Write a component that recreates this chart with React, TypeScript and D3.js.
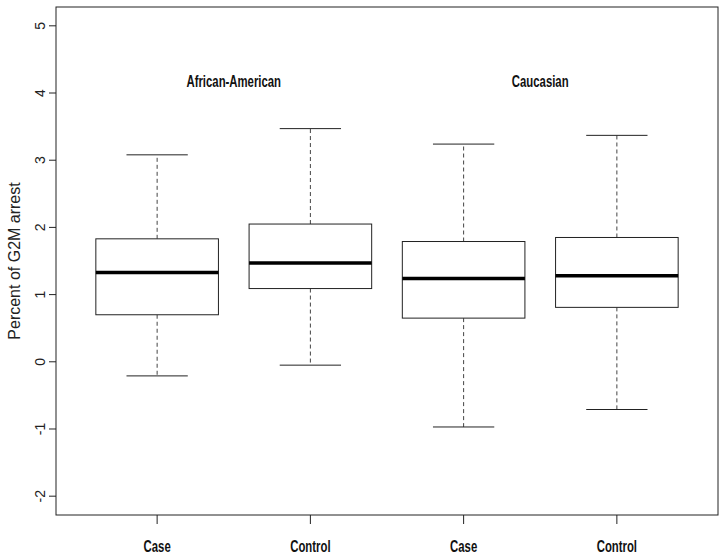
import React from "react";
import * as d3 from "d3";

// values
const categories = ["Case", "Control", "Case", "Control"];
const groups = ["African-American", "Caucasian"];
const whiskerLow = [-0.21, -0.05, -0.97, -0.71];
const q1 = [0.7, 1.09, 0.65, 0.81];
const medians = [1.33, 1.47, 1.24, 1.28];
const q3 = [1.83, 2.05, 1.79, 1.85];
const whiskerHigh = [3.08, 3.47, 3.24, 3.37];
const yTicks = [-2, -1, 0, 1, 2, 3, 4, 5];

const W = 728;
const H = 559;
const margin = { top: 7, right: 10, bottom: 44, left: 56 };

const sans = "'Liberation Sans', Arial, sans-serif";
// the reference uses a condensed bold face; squeeze Arial bold to match
const squeeze = 0.71;

function NarrowLabel({ x, y, text }: { x: number; y: number; text: string }) {
  return (
    <g transform={`translate(${x},${y}) scale(${squeeze},1)`}>
      <text
        textAnchor="middle"
        dominantBaseline="central"
        fontFamily={sans}
        fontWeight="bold"
        fontSize={16}
        fill="#111"
      >
        {text}
      </text>
    </g>
  );
}

export default function App() {
  // R style: xlim c(0.5, n + 0.5) and 4% padding on both axes
  const n = categories.length;
  const x = d3
    .scaleLinear()
    .domain([0.5 - 0.04 * n, n + 0.5 + 0.04 * n])
    .range([margin.left, W - margin.right]);
  const y = d3
    .scaleLinear()
    .domain([-2 - 0.04 * 7, 5 + 0.04 * 7])
    .range([H - margin.bottom, margin.top]);

  const boxHalf = x(1.4) - x(1);
  const capHalf = boxHalf / 2;
  const ink = "#222";

  return (
    <svg width={W} height={H} style={{ position: "absolute", left: 0, top: 0, background: "#fff" }}>
      {/* frame */}
      <rect
        x={margin.left}
        y={margin.top}
        width={W - margin.left - margin.right}
        height={H - margin.top - margin.bottom}
        fill="none"
        stroke={ink}
        strokeWidth={1}
      />

      {/* y axis */}
      {yTicks.map((t) => (
        <g key={"y" + t}>
          <line x1={margin.left - 7} x2={margin.left} y1={y(t)} y2={y(t)} stroke={ink} />
          <text
            transform={`translate(${margin.left - 16},${y(t)}) rotate(-90)`}
            textAnchor="middle"
            dominantBaseline="central"
            fontFamily={sans}
            fontSize={14}
            fill="#222"
          >
            {t}
          </text>
        </g>
      ))}
      <text
        transform={`translate(14,${(margin.top + H - margin.bottom) / 2}) rotate(-90)`}
        textAnchor="middle"
        dominantBaseline="central"
        fontFamily={sans}
        fontSize={16}
        fill="#222"
      >
        Percent of G2M arrest
      </text>

      {/* x axis */}
      {categories.map((c, i) => (
        <g key={"x" + i}>
          <line
            x1={x(i + 1)}
            x2={x(i + 1)}
            y1={H - margin.bottom}
            y2={H - margin.bottom + 9}
            stroke={ink}
          />
          <NarrowLabel x={x(i + 1)} y={H - margin.bottom + 31} text={c} />
        </g>
      ))}

      {/* group labels */}
      {groups.map((g, i) => (
        <NarrowLabel key={g} x={x(i * 2 + 1.5)} y={y(4.18)} text={g} />
      ))}

      {/* boxes */}
      {categories.map((c, i) => {
        const cx = x(i + 1);
        return (
          <g key={"b" + i} stroke={ink} fill="none">
            <line x1={cx} x2={cx} y1={y(q3[i])} y2={y(whiskerHigh[i])} strokeDasharray="4,3" stroke="#444" />
            <line x1={cx} x2={cx} y1={y(q1[i])} y2={y(whiskerLow[i])} strokeDasharray="4,3" stroke="#444" />
            <line x1={cx - capHalf} x2={cx + capHalf} y1={y(whiskerHigh[i])} y2={y(whiskerHigh[i])} />
            <line x1={cx - capHalf} x2={cx + capHalf} y1={y(whiskerLow[i])} y2={y(whiskerLow[i])} />
            <rect
              x={cx - boxHalf}
              y={y(q3[i])}
              width={boxHalf * 2}
              height={y(q1[i]) - y(q3[i])}
              fill="#fff"
            />
            <line
              x1={cx - boxHalf}
              x2={cx + boxHalf}
              y1={y(medians[i])}
              y2={y(medians[i])}
              stroke="#000"
              strokeWidth={3.5}
            />
          </g>
        );
      })}
    </svg>
  );
}
